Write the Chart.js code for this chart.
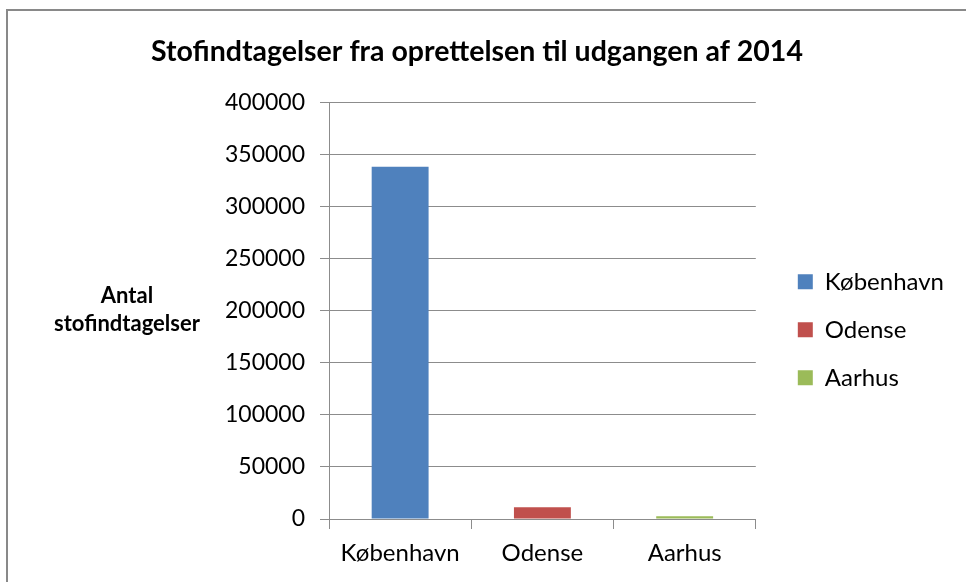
<!DOCTYPE html>
<html>
<head>
<meta charset="utf-8">
<script src="https://cdn.jsdelivr.net/npm/chart.js@4.4.1/dist/chart.umd.min.js"></script>
<style>
    body { margin: 0; background: #fff; }
    #wrap { position: relative; width: 966px; height: 582px; }
    #frame { position: absolute; left: 6px; top: 9px; right: 0; bottom: 0; border-left: 2px solid #898989; border-top: 2px solid #898989; }
    #chart { position: absolute; left: 0; top: 0; }
</style>
</head>
<body>
<div id="wrap">
    <div id="frame"></div>
    <canvas id="chart" width="966" height="582"></canvas>
</div>
<script>
// Data
const categories = ['København', 'Odense', 'Aarhus'];
const stofindtagelser = [338000, 11200, 2700];
const barColors = ['#4F81BD', '#C0504D', '#9BBB59'];
const yMax = 400000;
const yStep = 50000;
const chartTitle = 'Stofindtagelser fra oprettelsen til udgangen af 2014';
const yTitle = ['Antal', 'stofindtagelser'];

const font = 'Lato, "Open Sans", sans-serif';
const gridColor = '#8c8c8c';

// Y-akse titel vandret til venstre (som i Excel)
const yTitlePlugin = {
    id: 'yTitle',
    afterDraw(chart) {
        const ctx = chart.ctx;
        const mid = (chart.chartArea.top + chart.chartArea.bottom) / 2;
        ctx.save();
        ctx.font = 'bold 22px ' + font;
        ctx.fillStyle = '#000';
        ctx.textAlign = 'center';
        ctx.textBaseline = 'middle';
        yTitle.forEach((line, i) => {
            ctx.fillText(line, 127, mid - 15 + i * 28);
        });
        ctx.restore();
    }
};

new Chart(document.getElementById('chart'), {
    type: 'bar',
    data: {
        labels: categories,
        datasets: [{
            label: 'Antal stofindtagelser',
            data: stofindtagelser,
            backgroundColor: barColors,
            categoryPercentage: 1,
            barPercentage: 0.4
        }]
    },
    options: {
        responsive: false,
        animation: false,
        layout: { padding: { left: 0, right: 12, top: 0, bottom: 0 } },
        plugins: {
            tooltip: { enabled: false },
            title: {
                display: true,
                text: chartTitle,
                color: '#000',
                font: { family: font, size: 28.5, weight: 'bold' },
                padding: { top: 35, bottom: 33 }
            },
            legend: {
                position: 'right',
                fullSize: false,
                maxWidth: 300,
                title: { display: true, text: '', padding: { top: 12, bottom: 12 } },
                labels: {
                    color: '#000',
                    font: { family: font, size: 24 },
                    boxWidth: 15,
                    boxHeight: 15,
                    padding: 24,
                    generateLabels: () => categories.map((c, i) => ({
                        text: c,
                        fillStyle: barColors[i],
                        strokeStyle: barColors[i],
                        fontColor: '#000',
                        lineWidth: 0,
                        index: i
                    }))
                }
            }
        },
        scales: {
            x: {
                grid: { drawOnChartArea: false, color: gridColor, tickLength: 10 },
                border: { color: gridColor },
                ticks: { color: '#000', font: { family: font, size: 24 }, padding: 10 },
                afterFit: (scale) => { scale.height = 63; }
            },
            y: {
                min: 0,
                max: yMax,
                grid: { color: gridColor, tickLength: 9 },
                border: { color: gridColor },
                ticks: {
                    stepSize: yStep,
                    color: '#000',
                    font: { family: font, size: 23 },
                    padding: 15,
                    callback: (v) => String(v)
                },
                afterFit: (scale) => { scale.width = 329; }
            },
            // tom akse, giver luft mellem plotområde og forklaring
            spacer: {
                position: 'right',
                grid: { display: false },
                border: { display: false },
                ticks: { display: false },
                afterFit: (scale) => { scale.width = 18; }
            }
        }
    },
    plugins: [yTitlePlugin]
});
</script>
</body>
</html>
